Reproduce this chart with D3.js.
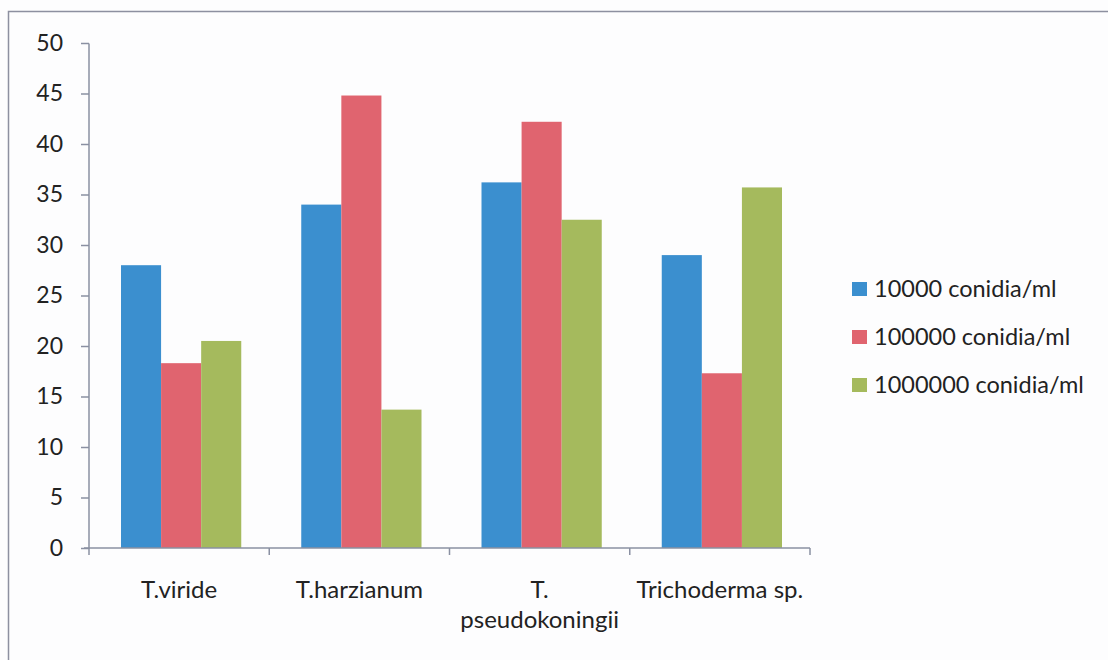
<!DOCTYPE html>
<html><head><meta charset="utf-8">
<script src="https://cdn.jsdelivr.net/npm/d3@7"></script>
<style>body{margin:0;background:#fdfdfe;}svg{display:block;}text{font-family:Lato,"Open Sans",sans-serif;fill:#222;}</style>
</head><body><svg id="c" width="1108" height="660"></svg>
<script>
const categories = ["T.viride", "T.harzianum", "T. pseudokoningii", "Trichoderma sp."];
const seriesNames = ["10000 conidia/ml", "100000 conidia/ml", "1000000 conidia/ml"];
const s10000 = [28.0, 34.0, 36.2, 29.0];
const s100000 = [18.3, 44.8, 42.2, 17.3];
const s1000000 = [20.5, 13.7, 32.5, 35.7];
const yTicks = [0, 5, 10, 15, 20, 25, 30, 35, 40, 45, 50];
const colors = ["#3b8fcf", "#e0646f", "#a5ba5d"];
const series = [s10000, s100000, s1000000];

const svg = d3.select("#c");
// outer frame
svg.append("path").attr("d","M8.5,660 L8.5,11.5 L1108,11.5").attr("fill","none").attr("stroke","#8d90a0").attr("stroke-width",1.5);

const x0 = d3.scaleBand().domain(categories).range([89, 810]).paddingInner(0).paddingOuter(0);
const x1 = d3.scaleBand().domain(d3.range(3)).range([32, x0.bandwidth()-28]).padding(0);
const y = d3.scaleLinear().domain([0, 50]).range([548, 43]);

const g = svg.append("g");
categories.forEach((c, i) => {
  series.forEach((s, j) => {
    g.append("rect")
      .attr("x", x0(c) + x1(j))
      .attr("y", y(s[i]))
      .attr("width", x1.bandwidth())
      .attr("height", y(0) - y(s[i]))
      .attr("fill", colors[j]);
  });
});

const axisColor = "#8a90a2";
// y axis
const ya = svg.append("g").attr("transform","translate(89,0)")
  .call(d3.axisLeft(y).tickValues(yTicks).tickSize(8).tickPadding(18));
ya.selectAll("text").style("font-size","23px").attr("fill","#222");
ya.selectAll("line,path").attr("stroke",axisColor).attr("stroke-width",1.5);
ya.select(".domain").attr("d","M0,43.5V548.5");
// x axis
const xa = svg.append("g").attr("transform","translate(0,548)");
xa.append("line").attr("x1",84).attr("x2",810).attr("stroke",axisColor).attr("stroke-width",1.5);
const edges = categories.map(c => x0(c)).concat([x0.range()[1]]);
edges.forEach(e => xa.append("line").attr("x1",e).attr("x2",e).attr("y1",0).attr("y2",7).attr("stroke",axisColor).attr("stroke-width",1.5));
categories.forEach(c => {
  const cx = x0(c) + x0.bandwidth()/2;
  const t = xa.append("text").attr("text-anchor","middle").style("font-size","24px");
  if (c === "T. pseudokoningii") {
    t.append("tspan").attr("x",cx).attr("y",50).text("T.");
    t.append("tspan").attr("x",cx).attr("y",80).text("pseudokoningii");
  } else {
    t.attr("x",cx).attr("y",50).text(c);
  }
});

// legend
const lg = svg.append("g");
seriesNames.forEach((n, i) => {
  const yy = 289 + i*48;
  lg.append("rect").attr("x",852).attr("y",yy-7).attr("width",15).attr("height",14).attr("fill",colors[i]);
  lg.append("text").attr("x",874).attr("y",yy+8).style("font-size","23.5px").text(n);
});
</script></body></html>
